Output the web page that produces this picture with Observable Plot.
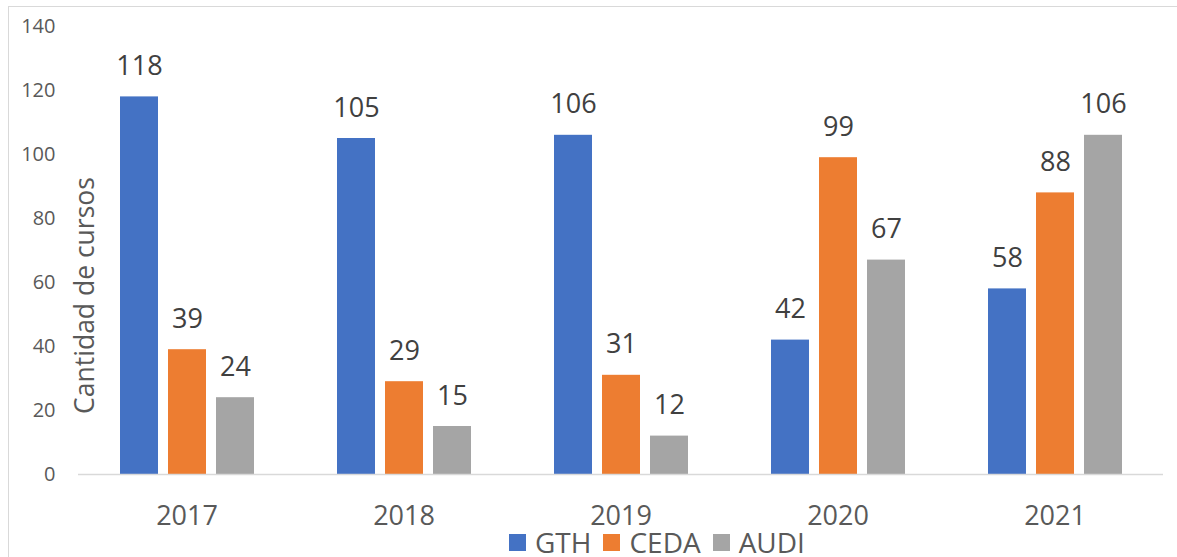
<!DOCTYPE html>
<html>
<head>
<meta charset="utf-8">
<script src="https://cdn.jsdelivr.net/npm/d3@7"></script>
<script src="https://cdn.jsdelivr.net/npm/@observablehq/plot@0.6"></script>
<style>
  html, body { margin: 0; padding: 0; background: #fff; }
  #wrap { position: relative; width: 1177px; height: 557px; overflow: hidden; font-family: "Open Sans", sans-serif; }
  #border { position: absolute; left: 8px; top: 6px; width: 1300px; height: 700px; border: 1.5px solid #d9d9d9; box-sizing: border-box; }
  #chart { position: absolute; left: 0; top: 0; }
  #legend { position: absolute; left: 509px; top: 528px; display: flex; align-items: center; font-size: 28px; color: #595959; line-height: 1; white-space: nowrap; }
  #legend .sw { width: 17px; height: 17px; display: inline-block; margin-right: 9px; }
  #legend .it { display: flex; align-items: center; margin-right: 12px; }
</style>
</head>
<body>
<div id="wrap">
  <div id="border"></div>
  <div id="chart"></div>
  <div id="legend"></div>
</div>
<script>
const years = ["2017", "2018", "2019", "2020", "2021"];
const series = ["GTH", "CEDA", "AUDI"];
const gth = [118, 105, 106, 42, 58];
const ceda = [39, 29, 31, 99, 88];
const audi = [24, 15, 12, 67, 106];
const colors = ["#4472C4", "#ED7D31", "#A5A5A5"];
const yTicks = [0, 20, 40, 60, 80, 100, 120, 140];
const yTitle = "Cantidad de cursos";

const seriesValues = [gth, ceda, audi];
const data = years.flatMap((yr, i) => series.map((s, j) => ({year: yr, series: s, value: seriesValues[j][i]})));

const chart = Plot.plot({
  width: 1177,
  height: 530,
  marginTop: 26,
  marginBottom: 56,
  marginLeft: 76,
  marginRight: 13,
  style: {fontFamily: "'Open Sans', sans-serif", color: "#595959", background: "transparent", overflow: "visible"},
  fx: {domain: years, padding: 0, label: null},
  x: {domain: series, paddingInner: 0.216, paddingOuter: 0.851, axis: null},
  y: {domain: [0, 140], label: null},
  color: {domain: series, range: colors},
  marks: [
    Plot.axisY({ticks: yTicks, tickSize: 0, tickPadding: 23, fontSize: 20, label: null}),
    Plot.axisFx({anchor: "bottom", tickSize: 0, tickPadding: 31, fontSize: 27, label: null}),
    Plot.barY(data, {fx: "year", x: "series", y: "value", fill: "series"}),
    Plot.ruleY([0], {stroke: "#d9d9d9", strokeWidth: 1.5}),
    Plot.text(data, {fx: "year", x: "series", y: "value", text: d => String(d.value), lineAnchor: "bottom", dy: -22, fontSize: 27, fill: "#404040"}),
    Plot.text([yTitle], {fx: () => years[0], frameAnchor: "left", textAnchor: "middle", rotate: -90, dx: 7, dy: 45, fontSize: 26.5, fill: "#595959", text: d => d})
  ]
});
document.getElementById("chart").appendChild(chart);

const legend = document.getElementById("legend");
series.forEach((s, i) => {
  const it = document.createElement("span");
  it.className = "it";
  const sw = document.createElement("span");
  sw.className = "sw";
  sw.style.background = colors[i];
  const t = document.createElement("span");
  t.textContent = s;
  it.appendChild(sw);
  it.appendChild(t);
  legend.appendChild(it);
});
</script>
</body>
</html>
